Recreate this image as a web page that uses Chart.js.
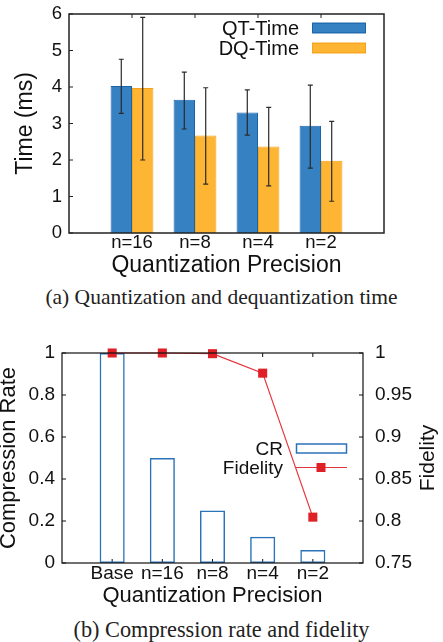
<!DOCTYPE html>
<html>
<head>
<meta charset="utf-8">
<script src="https://cdn.jsdelivr.net/npm/chart.js@4.4.0/dist/chart.umd.min.js"></script>
<style>
body { margin:0; background:#fff; width:443px; height:642px; position:relative; overflow:hidden; }
canvas { position:absolute; left:0; }
#chartA { top:0; }
#chartB { top:330px; }
.caption { position:absolute; left:0; width:443px; text-align:center; font-family:"Liberation Serif", "Times New Roman", serif; line-height:22px; color:#222; }
</style>
</head>
<body>
<canvas id="chartA" width="443" height="282"></canvas>
<div class="caption" style="top:286px; font-size:21.5px">(a) Quantization and dequantization time</div>
<canvas id="chartB" width="443" height="285"></canvas>
<div class="caption" style="top:619px; font-size:22.3px">(b) Compression rate and fidelity</div>
<script>
// (a) timing, blank slots at both ends keep the gnuplot spacing
var precisionLabels = ['', 'n=16', 'n=8', 'n=4', 'n=2', ''];
var qtTime = [null, 4.03, 3.65, 3.30, 2.94, null];
var qtLow  = [null, 3.28, 2.85, 2.68, 1.78, null];
var qtHigh = [null, 4.76, 4.41, 3.92, 4.05, null];
var dqTime = [null, 3.97, 2.67, 2.37, 1.98, null];
var dqLow  = [null, 2.00, 1.34, 1.29, 0.87, null];
var dqHigh = [null, 5.91, 3.98, 3.44, 3.06, null];

// (b) compression rate and fidelity
var crLabels = ['', 'Base', 'n=16', 'n=8', 'n=4', 'n=2', ''];
var compressionRate = [null, 1, 0.5, 0.25, 0.125, 0.0625, null];
var fidelity = [null, 1, 1, 0.9992, 0.976, 0.8046, null];

var SANS = '"Liberation Sans", Arial, Helvetica, sans-serif';
Chart.defaults.font.family = SANS;
Chart.defaults.color = '#111';

function plainNum(v) {
    return String(Math.round(v * 1000) / 1000);
}

var errorBars = {
    id: 'errorBars',
    afterDatasetsDraw: function (chart) {
        var ctx = chart.ctx;
        var yScale = chart.scales.y;
        chart.data.datasets.forEach(function (ds, di) {
            if (!ds.errLow) return;
            var meta = chart.getDatasetMeta(di);
            meta.data.forEach(function (bar, i) {
                if (ds.errLow[i] == null) return;
                var top = yScale.getPixelForValue(ds.errHigh[i]);
                var bot = yScale.getPixelForValue(ds.errLow[i]);
                ctx.save();
                ctx.strokeStyle = '#2a2a2a';
                ctx.lineWidth = 1.2;
                ctx.beginPath();
                ctx.moveTo(bar.x, top); ctx.lineTo(bar.x, bot);
                ctx.moveTo(bar.x - 2.5, top); ctx.lineTo(bar.x + 2.5, top);
                ctx.moveTo(bar.x - 2.5, bot); ctx.lineTo(bar.x + 2.5, bot);
                ctx.stroke();
                ctx.restore();
            });
        });
    }
};

function inTicks(chart, scaleId, side, len) {
    var scale = chart.scales[scaleId];
    var a = chart.chartArea;
    var ctx = chart.ctx;
    scale.ticks.forEach(function (t, i) {
        if (t.label === '') return;
        var p = scale.getPixelForTick(i);
        ctx.beginPath();
        if (side == 'left') { ctx.moveTo(a.left, p); ctx.lineTo(a.left + len, p); }
        if (side == 'right') { ctx.moveTo(a.right, p); ctx.lineTo(a.right - len, p); }
        if (side == 'top') { ctx.moveTo(p, a.top); ctx.lineTo(p, a.top + len); }
        if (side == 'bottom') { ctx.moveTo(p, a.bottom); ctx.lineTo(p, a.bottom - len); }
        ctx.stroke();
    });
}

var frame = {
    id: 'frame',
    beforeDatasetsDraw: function (chart, args, opts) {
        var ctx = chart.ctx;
        ctx.save();
        ctx.strokeStyle = opts.color;
        ctx.lineWidth = 1;
        opts.ticks.forEach(function (t) { inTicks(chart, t[0], t[1], 4); });
        ctx.restore();
    },
    afterDatasetsDraw: function (chart, args, opts) {
        var a = chart.chartArea;
        var ctx = chart.ctx;
        ctx.save();
        ctx.strokeStyle = opts.color;
        ctx.lineWidth = opts.width;
        ctx.strokeRect(a.left, a.top, a.right - a.left, a.bottom - a.top);
        ctx.restore();
    }
};

var keyA = {
    id: 'keyA',
    afterDraw: function (chart) {
        var ctx = chart.ctx;
        var rows = [28, 48];
        ctx.save();
        chart.data.datasets.forEach(function (ds, i) {
            var y = rows[i];
            ctx.font = '20px ' + SANS;
            ctx.fillStyle = '#111';
            ctx.textAlign = 'right';
            ctx.textBaseline = 'alphabetic';
            ctx.fillText(ds.label, 299, y + 7);
            ctx.fillStyle = ds.backgroundColor;
            ctx.fillRect(312, y - 5.3, 54, 10.6);
            ctx.strokeStyle = ds.borderColor;
            ctx.lineWidth = 1;
            ctx.strokeRect(312.5, y - 4.8, 53, 9.6);
        });
        ctx.restore();
    }
};

var keyB = {
    id: 'keyB',
    afterDraw: function (chart) {
        var ctx = chart.ctx;
        var bars = chart.data.datasets[0];
        var line = chart.data.datasets[1];
        ctx.save();
        ctx.font = '19px ' + SANS;
        ctx.fillStyle = '#111';
        ctx.textAlign = 'right';
        ctx.textBaseline = 'alphabetic';
        ctx.fillText(bars.label, 283, 118.5 + 6.8);
        ctx.fillText(line.label, 283, 137.5 + 6.8);
        ctx.strokeStyle = bars.borderColor;
        ctx.lineWidth = 1.5;
        ctx.strokeRect(296.5, 114, 50, 9);
        ctx.strokeStyle = line.borderColor;
        ctx.lineWidth = 1.2;
        ctx.beginPath();
        ctx.moveTo(296, 137.5); ctx.lineTo(347, 137.5);
        ctx.stroke();
        ctx.fillStyle = line.pointBackgroundColor;
        ctx.fillRect(316.5, 133, 9, 9);

        // right axis title, read bottom to top like gnuplot
        var y1 = chart.scales.y1;
        var a = chart.chartArea;
        ctx.fillStyle = '#111';
        ctx.translate(y1.right - 15, (a.top + a.bottom) / 2);
        ctx.rotate(-Math.PI / 2);
        ctx.font = '21px ' + SANS;
        ctx.textAlign = 'center';
        ctx.textBaseline = 'middle';
        ctx.fillText(y1.options.title.text, 0, 0);
        ctx.restore();
    }
};

var chartA = new Chart(document.getElementById('chartA').getContext('2d'), {
    type: 'bar',
    data: {
        labels: precisionLabels,
        datasets: [{
            label: 'QT-Time',
            data: qtTime,
            errLow: qtLow,
            errHigh: qtHigh,
            backgroundColor: '#3581C1',
            borderColor: '#1C64AA',
            borderWidth: 1
        }, {
            label: 'DQ-Time',
            data: dqTime,
            errLow: dqLow,
            errHigh: dqHigh,
            backgroundColor: '#FDB533',
            borderColor: '#F5A31C',
            borderWidth: 1
        }]
    },
    options: {
        responsive: false,
        animation: false,
        layout: { padding: { left: 0, top: 14, right: 59, bottom: 0 } },
        datasets: { bar: { categoryPercentage: 0.68, barPercentage: 1 } },
        plugins: {
            legend: { display: false },
            tooltip: { enabled: false },
            frame: { color: '#222', width: 1.5, ticks: [['y', 'left'], ['x', 'top'], ['x', 'bottom']] }
        },
        scales: {
            x: {
                offset: false,
                grid: { display: false, drawTicks: false },
                border: { display: false },
                ticks: { font: { size: 18.5, lineHeight: 1 }, padding: 1, maxRotation: 0, autoSkip: false },
                title: { display: true, text: 'Quantization Precision', font: { size: 23, lineHeight: 1.2 }, padding: { top: 0, bottom: 2.7 } },
                afterFit: function (s) { s.height = 49; s.paddingLeft = 0; s.paddingRight = 0; }
            },
            y: {
                min: 0,
                max: 6,
                grid: { display: false, drawTicks: false },
                border: { display: false },
                ticks: { stepSize: 1, font: { size: 18.5 }, padding: 7 },
                title: { display: true, text: 'Time (ms)', font: { size: 23, lineHeight: 1.2 }, padding: { top: 11.5, bottom: 0 } },
                afterFit: function (s) { s.width = 69; s.paddingTop = 0; s.paddingBottom = 0; }
            }
        }
    },
    plugins: [frame, errorBars, keyA]
});

var chartB = new Chart(document.getElementById('chartB').getContext('2d'), {
    type: 'bar',
    data: {
        labels: crLabels,
        datasets: [{
            label: 'CR',
            data: compressionRate,
            yAxisID: 'y',
            backgroundColor: 'rgba(255,255,255,0)',
            borderColor: '#2B73B9',
            borderWidth: 1.5,
            borderSkipped: false,
            order: 1
        }, {
            type: 'line',
            label: 'Fidelity',
            data: fidelity,
            yAxisID: 'y1',
            borderColor: '#E6353A',
            borderWidth: 1.2,
            pointStyle: 'rect',
            pointRadius: 6.4,
            pointBackgroundColor: '#DF2027',
            pointBorderWidth: 0,
            clip: false,
            order: 0
        }]
    },
    options: {
        responsive: false,
        animation: false,
        layout: { padding: { left: 0, top: 23, right: 0, bottom: 0 } },
        datasets: { bar: { categoryPercentage: 0.5, barPercentage: 1 } },
        plugins: {
            legend: { display: false },
            tooltip: { enabled: false },
            frame: { color: '#111', width: 1.2, ticks: [['y', 'left'], ['y1', 'right'], ['x', 'top'], ['x', 'bottom']] }
        },
        scales: {
            x: {
                offset: false,
                grid: { display: false, drawTicks: false },
                border: { display: false },
                ticks: { font: { size: 19, lineHeight: 1 }, padding: 1, maxRotation: 0, autoSkip: false },
                title: { display: true, text: 'Quantization Precision', font: { size: 22, lineHeight: 1.2 }, padding: { top: 0, bottom: 5.8 } },
                afterFit: function (s) { s.height = 52; s.paddingLeft = 0; s.paddingRight = 0; }
            },
            y: {
                position: 'left',
                min: 0,
                max: 1,
                grid: { display: false, drawTicks: false },
                border: { display: false },
                ticks: { stepSize: 0.2, font: { size: 19 }, padding: 7, callback: plainNum },
                title: { display: true, text: 'Compression Rate', font: { size: 22, lineHeight: 0.8 }, padding: { top: 0, bottom: 0 } },
                afterFit: function (s) { s.width = 62; s.paddingTop = 0; s.paddingBottom = 0; }
            },
            y1: {
                position: 'right',
                min: 0.75,
                max: 1,
                grid: { display: false, drawTicks: false },
                border: { display: false },
                ticks: { stepSize: 0.05, font: { size: 19 }, padding: 12, callback: plainNum },
                title: { display: false, text: 'Fidelity' },
                afterFit: function (s) { s.width = 80; s.paddingTop = 0; s.paddingBottom = 0; }
            }
        }
    },
    plugins: [frame, keyB]
});
</script>
</body>
</html>
